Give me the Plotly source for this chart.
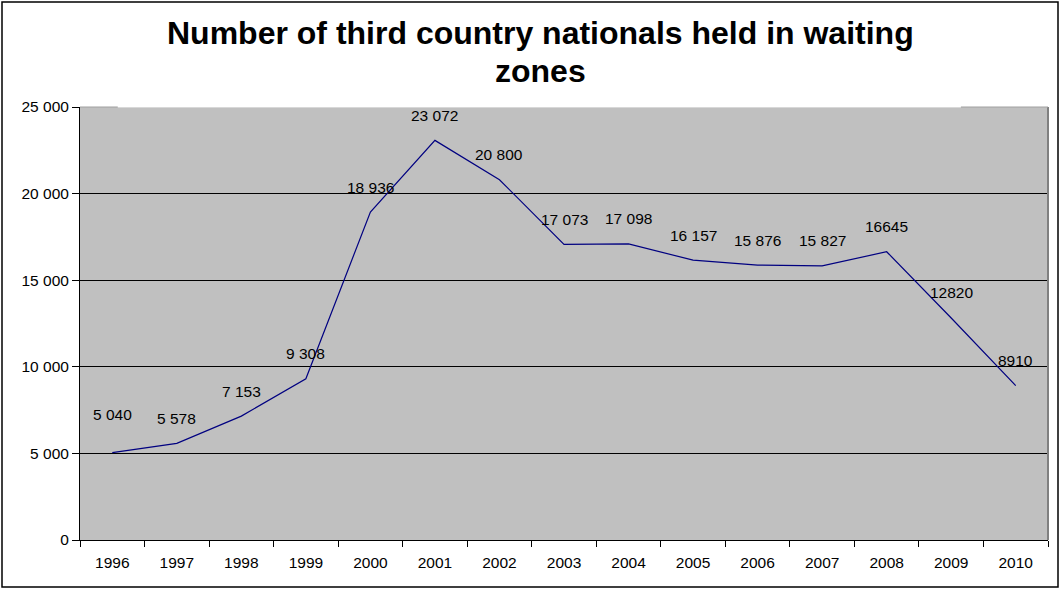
import plotly.graph_objects as go

years = ["1996", "1997", "1998", "1999", "2000", "2001", "2002", "2003",
         "2004", "2005", "2006", "2007", "2008", "2009", "2010"]
values = [5040, 5578, 7153, 9308, 18936, 23072, 20800, 17073,
          17098, 16157, 15876, 15827, 16645, 12820, 8910]
value_labels = ["5 040", "5 578", "7 153", "9 308", "18 936", "23 072", "20 800",
                "17 073", "17 098", "16 157", "15 876", "15 827", "16645", "12820", "8910"]
y_tick_vals = [0, 5000, 10000, 15000, 20000, 25000]
y_tick_text = ["0", "5 000", "10 000", "15 000", "20 000", "25 000"]
title_lines = ["Number of third country nationals held in waiting", "zones"]

FONT = "Liberation Sans, Arial, sans-serif"
PLOT_H = 433.0
PLOT_W = 968.0

fig = go.Figure()
fig.add_trace(go.Scatter(x=years, y=values, mode="lines",
                         line=dict(color="#000080", width=1.2),
                         hoverinfo="x+y", showlegend=False))

for i, (y, t) in enumerate(zip(values, value_labels)):
    fig.add_annotation(x=i, y=y, text=t, showarrow=False, xref="x", yref="y",
                       yshift=38 if i == 0 else 25,
                       font=dict(family=FONT, size=15.5, color="black"))

for k, line in enumerate(title_lines):
    fig.add_annotation(text="<b>" + line + "</b>",
                       xref="paper", yref="paper", x=(540 - 80) / PLOT_W,
                       y=(540 - 13 - 38.5 * k) / PLOT_H, xanchor="center", yanchor="top",
                       showarrow=False,
                       font=dict(family=FONT, size=32, color="black"))

fig.update_layout(
    width=1060, height=589,
    margin=dict(l=80, r=12, t=107, b=49),
    paper_bgcolor="white",
    plot_bgcolor="#C0C0C0",
    font=dict(family=FONT, size=15.5, color="black"),
    xaxis=dict(type="category", tickson="boundaries", ticks="outside", ticklen=6,
               tickcolor="black", showgrid=False, showline=True, linecolor="black",
               linewidth=1, tickfont=dict(size=15.5), range=[-0.5, 14.5], zeroline=False,
               ticklabelstandoff=8),
    yaxis=dict(range=[0, 25000], tickvals=y_tick_vals, ticktext=y_tick_text,
               ticks="outside", ticklen=7, tickcolor="black", showline=True,
               linecolor="black", linewidth=1, showgrid=True, gridcolor="black",
               gridwidth=1, zeroline=False, tickfont=dict(size=15.5)),
    shapes=[
        dict(type="line", xref="paper", yref="paper", x0=1, x1=1, y0=0, y1=1,
             line=dict(color="#808080", width=2)),
        dict(type="line", xref="paper", yref="paper", x0=0, x1=1, y0=1, y1=1,
             line=dict(color="#A0A0A0", width=1)),
        dict(type="rect", xref="paper", yref="paper", x0=0.039, x1=0.910,
             y0=0.999, y1=1.01, fillcolor="white", line=dict(width=0), layer="above"),
        dict(type="rect", xref="paper", yref="paper",
             x0=-78 / PLOT_W, x1=1 + 10 / PLOT_W, y0=-47 / PLOT_H, y1=1 + 105 / PLOT_H,
             line=dict(color="black", width=1.5), fillcolor="rgba(0,0,0,0)"),
    ],
)

fig.write_html("out.html", config={"displayModeBar": False},
               post_script="document.body.style.margin='0';document.body.style.overflow='hidden';")
